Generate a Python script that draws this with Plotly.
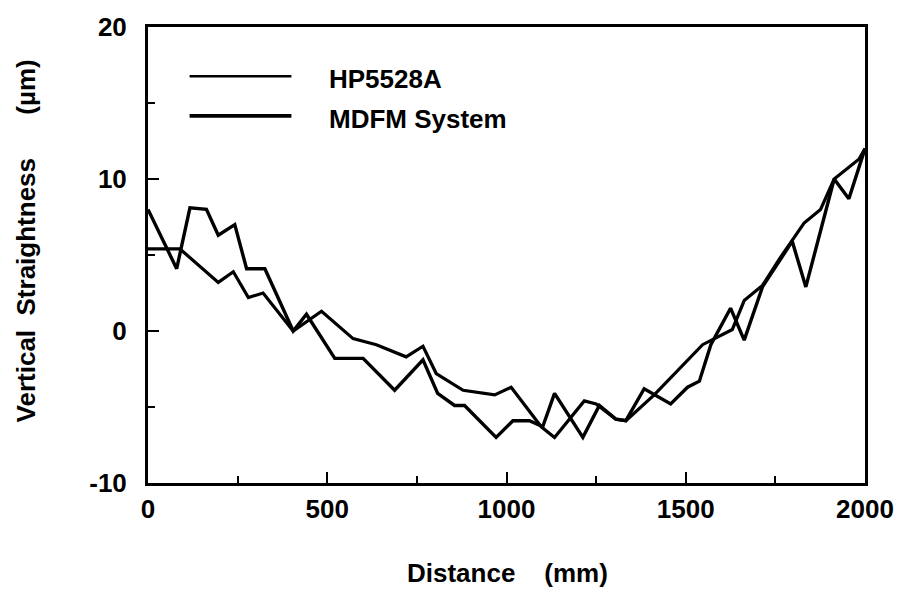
import plotly.graph_objects as go

# HP5528A laser interferometer reference profile
hp_x = [0, 89, 196, 238, 280, 321, 405, 484, 572, 637, 720, 767, 804, 879, 967,
        1013, 1097, 1134, 1217, 1250, 1305, 1333, 1412, 1480, 1547, 1630, 1663,
        1714, 1760, 1830, 1876, 1914, 1983, 2000]
hp_y = [5.4, 5.4, 3.2, 3.9, 2.2, 2.5, 0.0, 1.3, -0.5, -0.9, -1.7, -1.0, -2.8, -3.9, -4.2,
        -3.7, -6.3, -7.0, -4.6, -4.8, -5.8, -5.9, -4.2, -2.5, -0.9, 0.1, 2.0,
        3.0, 4.7, 7.1, 8.0, 10.0, 11.3, 12.0]

# MDFM system profile
mdfm_x = [0, 80, 117, 163, 196, 242, 275, 326, 405, 442, 521, 600, 688, 767, 808,
          855, 883, 971, 1018, 1064, 1101, 1134, 1213, 1259, 1305, 1333, 1384, 1458,
          1505, 1538, 1570, 1625, 1663, 1714, 1797, 1835, 1914, 1955, 2000]
mdfm_y = [8.0, 4.1, 8.1, 8.0, 6.3, 7.0, 4.1, 4.1, 0.0, 1.1, -1.8, -1.8, -3.9, -1.9, -4.1,
          -4.9, -4.9, -7.0, -5.9, -5.9, -6.3, -4.1, -7.0, -4.9, -5.8, -5.9, -3.8, -4.8,
          -3.7, -3.3, -0.9, 1.5, -0.6, 2.9, 5.9, 2.9, 10.0, 8.7, 12.0]

x_ticks = [0, 500, 1000, 1500, 2000]
y_ticks = [-10, 0, 10, 20]

FONT = "Liberation Sans, Arial, Helvetica, sans-serif"

fig = go.Figure()
fig.add_trace(go.Scatter(x=hp_x, y=hp_y, mode="lines", name="HP5528A",
                         line=dict(color="black", width=3.2), showlegend=False))
fig.add_trace(go.Scatter(x=mdfm_x, y=mdfm_y, mode="lines", name="MDFM System",
                         line=dict(color="black", width=3.4), showlegend=False))

axis_common = dict(showgrid=False, zeroline=False, showline=True, linecolor="black",
                   linewidth=3, mirror=True, ticks="inside", tickcolor="black",
                   tickwidth=2, ticklen=11,
                   tickfont=dict(family=FONT, size=26, color="black", weight="bold"))

fig.update_xaxes(range=[0, 2000], tickvals=x_ticks, ticktext=[str(v) for v in x_ticks],
                 minor=dict(ticks="inside", dtick=250, tick0=0, ticklen=7,
                            tickwidth=2, tickcolor="black"),
                 ticklabelstandoff=1, **axis_common)
fig.update_yaxes(range=[-10, 20], tickvals=y_ticks, ticktext=[str(v) for v in y_ticks],
                 minor=dict(ticks="inside", dtick=5, tick0=0, ticklen=7,
                            tickwidth=2, tickcolor="black"),
                 ticklabelstandoff=13, **axis_common)

# Legend drawn as line samples with labels
legend_rows = [("HP5528A", 2.6, 0.892), ("MDFM System", 3.6, 0.805)]
for label, w, yy in legend_rows:
    fig.add_shape(type="line", xref="paper", yref="paper", x0=0.058, x1=0.200,
                  y0=yy, y1=yy, line=dict(color="black", width=w))
    fig.add_annotation(text=label, xref="paper", yref="paper", x=0.250, y=yy - 0.006,
                       xanchor="left", yanchor="middle", showarrow=False,
                       font=dict(family=FONT, size=26, color="black", weight="bold"))

# Axis titles
fig.add_annotation(text="Distance    (mm)", xref="paper", yref="paper", x=0.502, y=-0.197,
                   xanchor="center", yanchor="middle", showarrow=False,
                   font=dict(family=FONT, size=26, color="black", weight="bold"))
fig.add_annotation(text="Vertical  Straightness      (µm)", xref="paper", yref="paper",
                   x=-0.170, y=0.530, xanchor="center", yanchor="middle", textangle=-90,
                   showarrow=False,
                   font=dict(family=FONT, size=26, color="black", weight="bold"))

fig.update_layout(width=906, height=590, plot_bgcolor="white", paper_bgcolor="white",
                  margin=dict(l=148, r=40, t=22, b=107), showlegend=False)

fig.write_html("out.html")
